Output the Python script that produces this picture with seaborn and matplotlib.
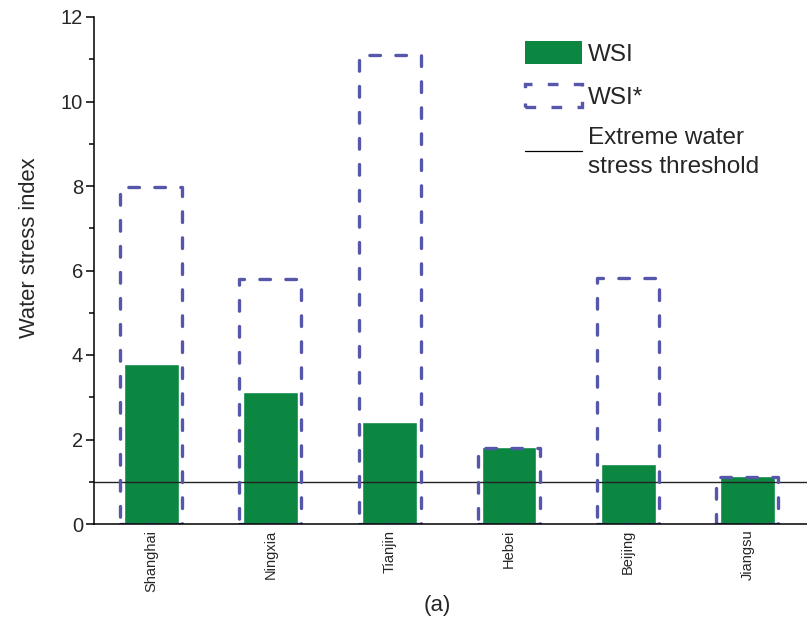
import matplotlib
matplotlib.use("Agg")
import matplotlib.pyplot as plt
from matplotlib.patches import Patch
from matplotlib.lines import Line2D
from matplotlib.ticker import MultipleLocator
import seaborn as sns

provinces = ["Shanghai", "Ningxia", "Tianjin", "Hebei", "Beijing", "Jiangsu"]
wsi = [3.79, 3.12, 2.41, 1.82, 1.42, 1.14]
wsi_star = [7.98, 5.80, 11.10, 1.80, 5.82, 1.11]
threshold = 1.0

GREEN = "#0c8742"
BLUE = "#5656aa"
LW = 2.4
DASH = (0, (3.2, 4.6))

sns.set_style("ticks")
plt.rcParams["font.family"] = ["Liberation Sans", "DejaVu Sans"]

fig = plt.figure(figsize=(8.07, 6.19), dpi=100)
ax = fig.add_axes([94 / 807, 95 / 619, 1 - 94 / 807, 507 / 619])

sns.barplot(x=provinces, y=wsi, color=GREEN, saturation=1, width=0.46, ax=ax, zorder=1)
ax.axhline(threshold, color="#222222", lw=1.0, zorder=2)
sns.barplot(x=provinces, y=wsi_star, color=BLUE, saturation=1, fill=False, width=0.52,
            linewidth=LW, linestyle=DASH, ax=ax, zorder=3)
for p in ax.patches[len(wsi):]:
    p.set_capstyle("round")
    p.set_joinstyle("round")

ax.set_xlim(-0.48, 5.5)
ax.set_ylim(0, 12)
ax.yaxis.set_major_locator(MultipleLocator(2))
ax.yaxis.set_minor_locator(MultipleLocator(1))
ax.tick_params(axis="y", which="major", length=6, width=1.1, labelsize=14.5, pad=2, color="black")
ax.tick_params(axis="y", which="minor", length=3.5, width=1.1, color="black")
ax.tick_params(axis="x", length=0, labelsize=10.5, pad=4, labelrotation=90)
for lbl in ax.get_xticklabels():
    lbl.set_va("top")
sns.despine(ax=ax)
for s in ["left", "bottom"]:
    ax.spines[s].set_linewidth(1.1)
    ax.spines[s].set_color("black")
    ax.spines[s].set_zorder(4)

ax.set_ylabel("Water stress index", fontsize=15.8)
ax.yaxis.set_label_coords(-0.0757, 0.545)
ax.set_xlabel("")

handles = [
    Patch(facecolor=GREEN, edgecolor="none"),
    Patch(facecolor="none", edgecolor=BLUE, linewidth=LW, linestyle=DASH, capstyle="round"),
    Line2D([0], [0], color="black", lw=0.9),
]
labels = ["WSI", "WSI*", "Extreme water\nstress threshold"]
leg = fig.legend(handles, labels, loc="upper left", bbox_to_anchor=(525 / 807, 1 - 41 / 619),
                 frameon=False, fontsize=17.5, handlelength=2.35, handleheight=1.1,
                 handletextpad=0.25, labelspacing=0.74, borderpad=0, borderaxespad=0)
for t in leg.get_texts():
    t.set_linespacing(1.45)

fig.text(437 / 807, 1 - 605 / 619, "(a)", ha="center", va="center", fontsize=16)

fig.savefig("out.png", dpi=100)
